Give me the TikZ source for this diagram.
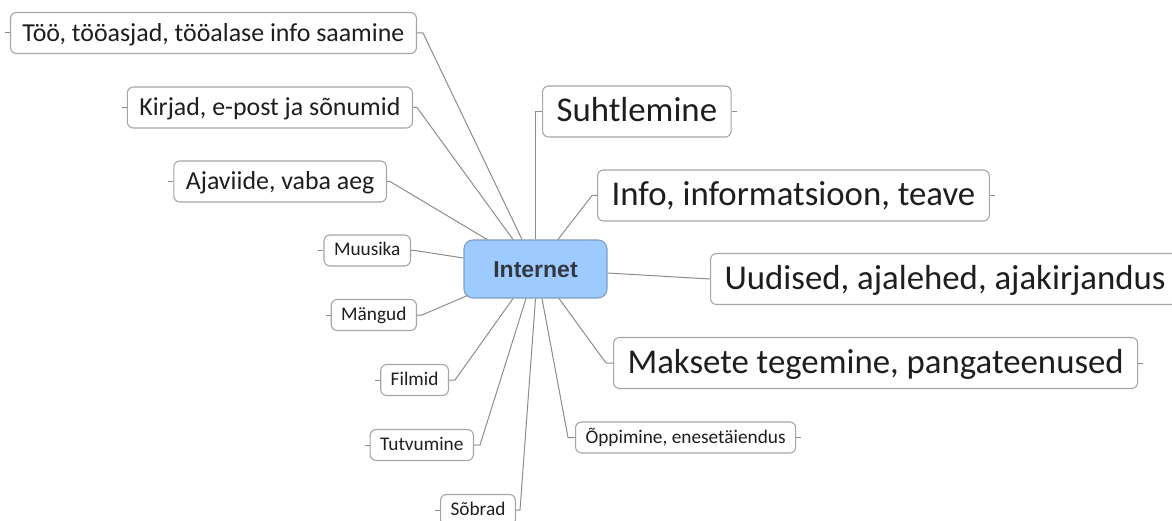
\documentclass[tikz,border=0pt]{standalone}
\usepackage{fontspec}
\setmainfont{Carlito}
\newfontfamily\hubfont{Liberation Sans}
\definecolor{hubfill}{HTML}{9DCBFF}
\definecolor{hubline}{HTML}{7F9FBF}
\definecolor{hubtext}{HTML}{333840}
\definecolor{boxline}{HTML}{A6A6A6}
\definecolor{linkgray}{HTML}{8C8C8C}
\definecolor{leaftext}{HTML}{1E1E1E}

\begin{document}
\begin{tikzpicture}[x=1pt,y=-1pt,
  link/.style={draw=linkgray,line width=1pt},
  leaf node/.style={draw=boxline,line width=1.1pt,fill=white,rounded corners=6pt,text=leaftext,inner ysep=0pt},
  big node/.style={leaf node,font=\fontsize{34.8}{40}\selectfont,text height=26pt,text depth=6pt,minimum height=51pt,inner xsep=14pt},
  mid node/.style={leaf node,font=\fontsize{25.9}{30}\selectfont,text height=21.5pt,text depth=4.5pt,minimum height=41pt,inner xsep=12pt},
  small node/.style={leaf node,font=\fontsize{19.3}{23}\selectfont,text height=14.5pt,text depth=3.5pt,minimum height=31pt,inner xsep=10pt},
  hub node/.style={draw=hubline,fill=hubfill,line width=1.1pt,rounded corners=9pt,minimum width=143pt,minimum height=58pt,
    inner ysep=0pt,text height=18pt,text depth=2pt,font=\hubfont\bfseries\fontsize{23}{27}\selectfont,text=hubtext}]
  \useasboundingbox (0,0) rectangle (1172,521);
  \clip (0,0) rectangle (1172,521);

  % centre
  \node[hub node] (inet) at (535.5,269) {Internet};

  % left side
  \node[mid node,anchor=east] (work) at (417,33) {Töö, tööasjad, tööalase info saamine};
  \node[mid node,anchor=east] (mail) at (413,107.5) {Kirjad, e-post ja sõnumid};
  \node[mid node,anchor=east] (free) at (387,181.5) {Ajaviide, vaba aeg};
  \node[small node,anchor=east] (music) at (411,250.5) {Muusika};
  \node[small node,anchor=east] (games) at (417,315) {Mängud};
  \node[small node,anchor=east] (films) at (449,380) {Filmid};
  \node[small node,anchor=east] (dating) at (474,445) {Tutvumine};
  \node[small node,anchor=east] (friends) at (516,510) {Sõbrad};

  % right side
  \node[big node,anchor=west] (talk) at (542,111.5) {Suhtlemine};
  \node[big node,anchor=west] (info) at (597,195.5) {Info, informatsioon, teave};
  \node[big node,anchor=west] (news) at (710,279) {Uudised, ajalehed, ajakirjandus};
  \node[big node,anchor=west] (pay) at (613,363) {Maksete tegemine, pangateenused};
  \node[small node,anchor=west] (learn) at (575,437.5) {Õppimine, enesetäiendus};

  % branches
  \draw[link] ([xshift=-13.5pt]inet.north) -- ([xshift=6pt]work.east) -- (work.east);
  \draw[link] ([xshift=-22.5pt]inet.north) -- ([xshift=4pt]mail.east) -- (mail.east);
  \draw[link] ([xshift=-48.5pt]inet.north) -- ([xshift=3pt]free.east) -- (free.east);
  \draw[link] ([yshift=11pt]inet.west) -- ([xshift=4pt]music.east) -- (music.east);
  \draw[link] ([xshift=4pt,yshift=3pt]inet.south west) -- ([xshift=5pt]games.east) -- (games.east);
  \draw[link] ([xshift=-22.5pt]inet.south) -- ([xshift=6pt]films.east) -- (films.east);
  \draw[link] ([xshift=-9.5pt]inet.south) -- ([xshift=6pt]dating.east) -- (dating.east);
  \draw[link] (inet.south) -- ([xshift=4pt]friends.east) -- (friends.east);
  \draw[link] (inet.north) -- (inet.north |- talk.west) -- (talk.west);
  \draw[link] ([xshift=22.5pt]inet.north) -- ([xshift=-5pt]info.west) -- (info.west);
  \draw[link] ([yshift=-4pt]inet.east) -- (news.west);
  \draw[link] ([xshift=23.5pt]inet.south) -- ([xshift=-7pt]pay.west) -- (pay.west);
  \draw[link] ([xshift=6.5pt]inet.south) -- ([xshift=-7pt]learn.west) -- (learn.west);

  % collapse ticks
  \foreach \n in {work,mail,free,music,games,films,dating,friends}
    \draw[link] (\n.west) -- ++(-5,0);
  \foreach \n in {talk,info,news,pay,learn}
    \draw[link] (\n.east) -- ++(5,0);
\end{tikzpicture}
\end{document}
